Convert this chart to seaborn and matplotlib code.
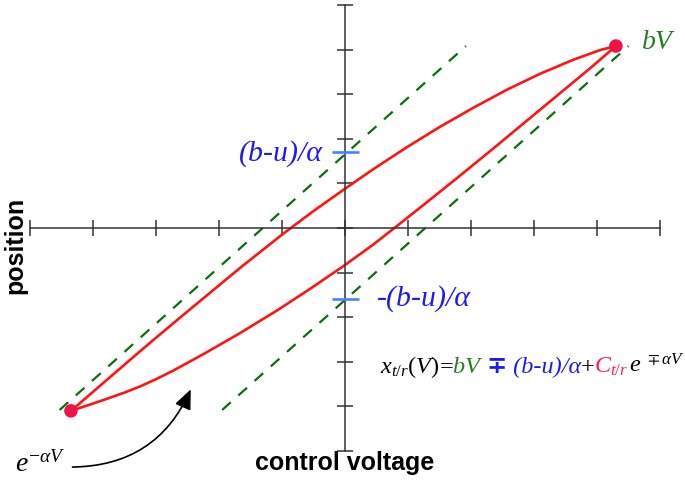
import matplotlib
matplotlib.use("Agg")
import matplotlib.pyplot as plt
import seaborn as sns
from matplotlib import transforms
from matplotlib.patches import FancyArrowPatch

# ---------------- data ----------------
# upper branch of the loop (control voltage -> position)
upper_v = [-4.35, -3.80, -3.25, -2.73, -2.20, -1.67, -1.00, -0.50, 0.00, 0.44,
           0.98, 1.51, 2.03, 2.57, 3.10, 3.62, 4.05, 4.30]
upper_x = [-4.10, -3.43, -2.76, -2.14, -1.52, -0.90, -0.15, 0.38, 0.88, 1.31,
           1.81, 2.27, 2.69, 3.10, 3.46, 3.77, 3.99, 4.08]
# lower branch of the loop
lower_v = [-4.35, -4.05, -3.78, -3.50, -3.25, -3.00, -2.73, -2.47, -2.20, -1.67,
           -1.08, -0.56, 0.00, 0.45, 0.82, 1.24, 1.77, 2.30, 2.83, 3.36, 3.89,
           4.30]
lower_x = [-4.10, -3.96, -3.83, -3.69, -3.55, -3.39, -3.20, -3.00, -2.79, -2.36,
           -1.85, -1.37, -0.83, -0.37, 0.04, 0.51, 1.11, 1.72, 2.34, 2.96, 3.58,
           4.08]
# asymptotes bV +/- (b-u)/alpha  (end points)
asym_upper_v = [-4.53, 1.92]
asym_upper_x = [-4.08, 4.08]
asym_lower_v = [-1.95, 4.50]
asym_lower_x = [-4.08, 4.08]
# turning points
turn_v = [-4.35, 4.30]
turn_x = [-4.10, 4.08]
# offsets (b-u)/alpha marked on the position axis
offset_levels = [1.70, -1.59]
# axis ticks
tick_vals = list(range(-5, 6))

# ---------------- style ----------------
sns.set_theme(style="white")
plt.rcParams.update({
    "mathtext.fontset": "custom",
    "mathtext.it": "Liberation Serif:italic",
    "mathtext.rm": "Liberation Serif",
    "mathtext.bf": "Liberation Serif:bold",
    "mathtext.fallback": "stix",
    "lines.solid_joinstyle": "round",
    "lines.solid_capstyle": "round",
})

RED = "#ff1414"
DOT = "#ee1246"
GREEN = "#0b6e0b"
GREEN_TXT = "#1f801f"
BLUE = "#1c1cf0"
BLUE_TICK = "#4682ff"
AXC = "#333333"

fig = plt.figure(figsize=(6.85, 4.80), dpi=100)
ax = fig.add_axes([0, 0, 1, 1])
ax.set_xlim(-5.476, 5.397)
ax.set_ylim(-5.650, 5.112)

# axes crossing at origin
for side in ("top", "right"):
    ax.spines[side].set_visible(False)
ax.spines["left"].set_position(("data", 0))
ax.spines["bottom"].set_position(("data", 0))
ax.spines["left"].set_bounds(-5, 5)
ax.spines["bottom"].set_bounds(-5, 5)
for side in ("left", "bottom"):
    ax.spines[side].set_color(AXC)
    ax.spines[side].set_linewidth(1.1)
ax.set_xticks(tick_vals)
ax.set_yticks(tick_vals)
ax.set_xticklabels([])
ax.set_yticklabels([])
ax.tick_params(direction="inout", length=11, width=1.1, color=AXC,
               bottom=True, left=True)
ax.set_xlabel("")
ax.set_ylabel("")

# asymptotes
sns.lineplot(x=asym_upper_v, y=asym_upper_x, color=GREEN, lw=1.6,
             sort=False, estimator=None, ax=ax)
ax.lines[-1].set_dashes([5.2, 4.6])
sns.lineplot(x=asym_lower_v, y=asym_lower_x, color=GREEN, lw=1.6,
             sort=False, estimator=None, ax=ax)
ax.lines[-1].set_dashes([5.2, 4.6])

# loop branches
sns.lineplot(x=upper_v, y=upper_x, color=RED, lw=1.9, sort=False,
             estimator=None, ax=ax)
sns.lineplot(x=lower_v, y=lower_x, color=RED, lw=1.9, sort=False,
             estimator=None, ax=ax)

# turning points
sns.scatterplot(x=turn_v, y=turn_x, s=95, color=DOT, edgecolor="none",
                zorder=5, ax=ax)

# offset marks on the position axis
ax.hlines(offset_levels, -0.2, 0.22, colors=BLUE_TICK, lw=1.9, zorder=4)

serif_it = dict(family="Liberation Serif", style="italic")

ax.text(4.71, 4.17, "bV", color=GREEN_TXT, fontsize=20, ha="left",
        va="center", **serif_it)
ax.text(-0.35, 1.66, "(b-u)/α", color=BLUE, fontsize=21.5, ha="right",
        va="center", **serif_it)
ax.text(0.50, -1.59, "-(b-u)/α", color=BLUE, fontsize=21.5, ha="left",
        va="center", **serif_it)

# axis titles
ax.text(0.0, -5.43, "control voltage", fontsize=18, fontweight="bold",
        family="Liberation Sans", ha="center", va="baseline", color="black")
ax.text(-5.24, -0.39, "position", fontsize=18, fontweight="bold",
        family="Liberation Sans", ha="center", va="center", rotation=90,
        color="black")

# e^{-alpha V} label with curved arrow
ax.text(-5.24, -5.47, r"$e^{-\alpha V}$", fontsize=20, ha="left",
        va="baseline", color="black")
arrow = FancyArrowPatch((-4.37, -5.36), (-2.43, -3.56),
                        connectionstyle="arc3,rad=0.33",
                        arrowstyle="-|>,head_length=0.75,head_width=0.32",
                        mutation_scale=16, color="black", lw=1.2)
ax.add_patch(arrow)

# multi-coloured formula
pieces = [
    (r"$x_{t/r}(V)$", dict(color="black")),
    ("=", dict(color="black", family="Liberation Serif")),
    ("bV ", dict(color=GREEN_TXT, **serif_it)),
    ("∓", dict(color=BLUE, family="DejaVu Sans", fontweight="bold")),
    (" (b-u)/α", dict(color=BLUE, **serif_it)),
    ("+", dict(color="black", family="Liberation Serif")),
    (r"$C_{t/r}$", dict(color="#ff2050")),
    (r"$e^{\ \mp\alpha V}$", dict(color="black")),
]
fig.canvas.draw()
renderer = fig.canvas.get_renderer()
trans = ax.transData
for s, props in pieces:
    t = ax.text(0.56, -3.25, s, transform=trans, ha="left", va="baseline",
                fontsize=17.5, **props)
    ext = t.get_window_extent(renderer=renderer)
    trans = transforms.offset_copy(t.get_transform(), x=ext.width, units="dots")

fig.savefig("out.png", dpi=100)
